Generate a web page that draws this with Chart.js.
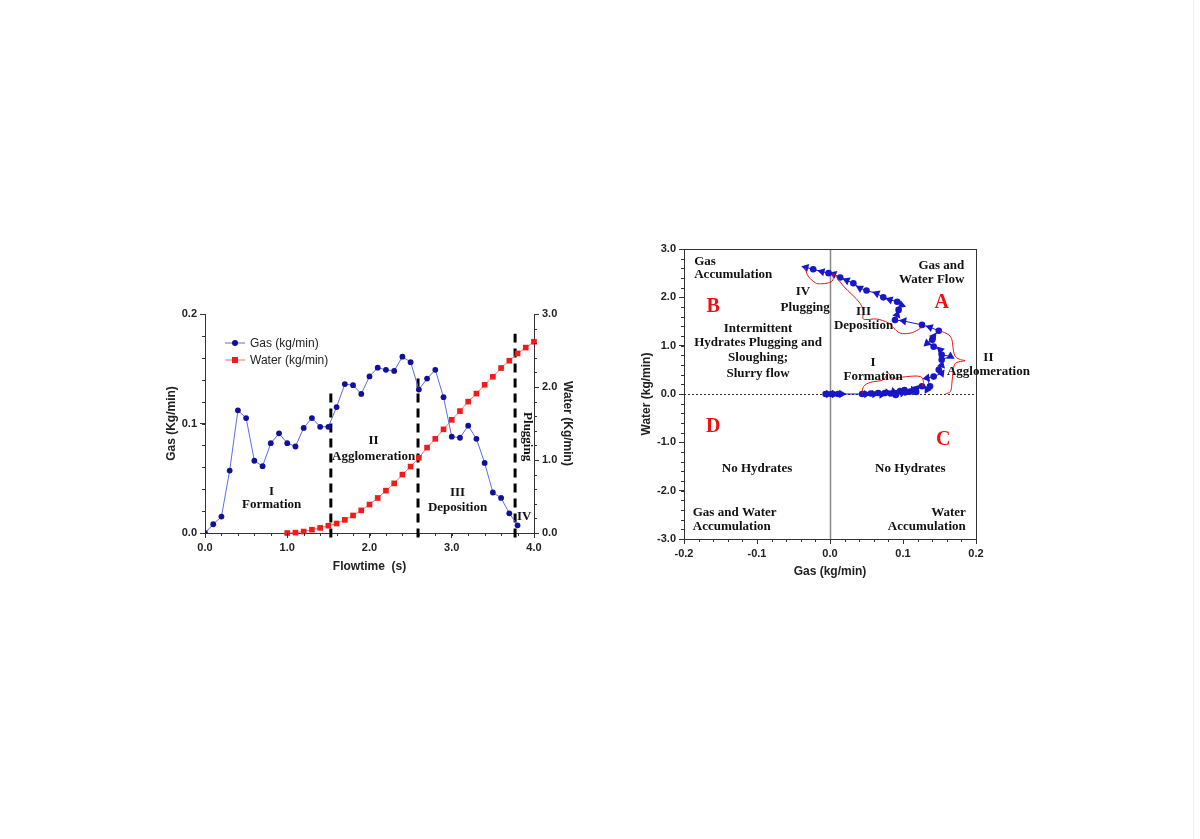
<!DOCTYPE html>
<html>
<head>
<meta charset="utf-8">
<script src="https://cdn.jsdelivr.net/npm/chart.js@4.4.1/dist/chart.umd.min.js"></script>
<style>
  body { margin: 0; background: #fff; width: 1200px; height: 839px; overflow: hidden; position: relative; }
  .edge { position: absolute; left: 1193px; top: 0; width: 1px; height: 839px; background: #eeeeee; }
  #left { position: absolute; left: 160px; top: 300px; }
  #right { position: absolute; left: 635px; top: 235px; }
</style>
</head>
<body>
<div class="edge"></div>
<canvas id="left" width="419" height="280"></canvas>
<canvas id="right" width="405" height="350"></canvas>
<script>
// ---- left chart: flow rates vs flowtime ----
const gasTime = [0.0, 0.1, 0.2, 0.3, 0.4, 0.5, 0.6, 0.7, 0.8, 0.9, 1.0, 1.1, 1.2, 1.3, 1.4, 1.5, 1.6, 1.7, 1.8, 1.9,
                 2.0, 2.1, 2.2, 2.3, 2.4, 2.5, 2.6, 2.7, 2.8, 2.9, 3.0, 3.1, 3.2, 3.3, 3.4, 3.5, 3.6, 3.7, 3.8];
const gasFlow = [0, 0.008, 0.015, 0.057, 0.112, 0.105, 0.066, 0.061, 0.082, 0.091, 0.082, 0.079, 0.096, 0.105, 0.097, 0.097,
                 0.115, 0.136, 0.135, 0.127, 0.143, 0.151, 0.149, 0.148, 0.161, 0.156, 0.131, 0.141, 0.149, 0.124,
                 0.088, 0.087, 0.098, 0.086, 0.064, 0.037, 0.032, 0.018, 0.007];
const waterTime = [1.0, 1.1, 1.2, 1.3, 1.4, 1.5, 1.6, 1.7, 1.8, 1.9, 2.0, 2.1, 2.2, 2.3, 2.4, 2.5, 2.6, 2.7, 2.8, 2.9,
                   3.0, 3.1, 3.2, 3.3, 3.4, 3.5, 3.6, 3.7, 3.8, 3.9, 4.0];
const waterFlow = [0, 0.005, 0.02, 0.045, 0.07, 0.10, 0.13, 0.18, 0.24, 0.31, 0.39, 0.48, 0.58, 0.68, 0.80, 0.91,
                   1.03, 1.17, 1.29, 1.42, 1.55, 1.67, 1.80, 1.91, 2.03, 2.14, 2.26, 2.36, 2.46, 2.54, 2.62];
// stage boundaries (s) and how high each dashed line reaches (gas axis)
const stageTimes = [1.53, 2.59, 3.77];
const stageTops = [0.131, 0.145, 0.182];

// ---- right chart: water vs gas trajectory ----
const trajGas = [-0.006, -0.002, 0.002, 0.006, 0.011, 0.016, 0.044, 0.050, 0.056, 0.061, 0.066, 0.071, 0.075, 0.079,
                 0.083, 0.087, 0.090, 0.093, 0.096, 0.099, 0.102, 0.106, 0.110, 0.114, 0.118,
                 0.119, 0.126, 0.133, 0.137, 0.133, 0.142, 0.153, 0.149, 0.153, 0.153, 0.165, 0.153, 0.151, 0.142,
                 0.133, 0.140, 0.142, 0.149, 0.137, 0.126, 0.101, 0.089, 0.092, 0.094, 0.098, 0.092, 0.082, 0.073,
                 0.064, 0.050, 0.041, 0.032, 0.023, 0.014, 0.005, -0.002, -0.011, -0.023, -0.033];
const trajWater = [0, 0, 0, 0, 0, 0, 0, 0, 0.01, 0, 0.02, -0.01, 0.02, 0.03, 0.01, 0.05, -0.02, 0.04, 0.06, 0.02,
                   0.08, 0.03, 0.05, 0.08, 0.04,
                   0.12, 0.16, 0.09, 0.16, 0.33, 0.36, 0.43, 0.50, 0.60, 0.71, 0.78, 0.81, 0.91, 0.98,
                   1.05, 1.12, 1.19, 1.31, 1.38, 1.43, 1.51, 1.53, 1.64, 1.74, 1.84, 1.91, 1.95, 2.00,
                   2.08, 2.14, 2.19, 2.29, 2.35, 2.41, 2.48, 2.50, 2.53, 2.58, 2.62];
// red outlines around each stage
const braceIGas = [0.044, 0.046, 0.055, 0.073, 0.080, 0.085, 0.105, 0.124, 0.128, 0.126];
const braceIWater = [0.02, 0.155, 0.24, 0.295, 0.43, 0.33, 0.36, 0.36, 0.26, 0.155];
const braceIIGas = [0.151, 0.163, 0.167, 0.169, 0.172, 0.179, 0.185, 0.172, 0.169, 0.167, 0.165, 0.158];
const braceIIWater = [1.31, 1.22, 1.12, 0.91, 0.77, 0.71, 0.69, 0.64, 0.50, 0.23, 0.05, 0.0];
const braceIIIGas = [0.005, 0.0185, 0.030, 0.041, 0.046, 0.045, 0.048, 0.064, 0.080, 0.087, 0.096, 0.110, 0.121, 0.125];
const braceIIIWater = [2.50, 2.23, 2.06, 1.88, 1.71, 1.57, 1.54, 1.55, 1.47, 1.37, 1.26, 1.26, 1.33, 1.38];
const braceIVGas = [-0.034, -0.030, -0.020, -0.013, -0.002, 0.004, 0.004];
const braceIVWater = [2.61, 2.44, 2.30, 2.28, 2.30, 2.36, 2.50];

const SANS = '"Liberation Sans", Arial, sans-serif';
const SERIF = '"Liberation Serif", "Times New Roman", serif';
const AXIS = '#333';

const zip = (xs, ys) => xs.map((x, i) => ({ x: x, y: ys[i] }));

// text labels inside the plots, placed in data units
function notesPlugin(items, yAxis, legend) {
  return {
    id: 'notes',
    afterDatasetsDraw(chart) {
      const ctx = chart.ctx;
      const xs = chart.scales.x, ys = chart.scales[yAxis];
      ctx.save();
      ctx.textBaseline = 'middle';
      items.forEach(n => {
        ctx.font = n.font || ('bold 13px ' + SERIF);
        ctx.fillStyle = n.color || '#111';
        ctx.textAlign = n.align || 'center';
        const px = xs.getPixelForValue(n.x), py = ys.getPixelForValue(n.y);
        if (n.rot) {
          ctx.save();
          ctx.translate(px, py);
          ctx.rotate(n.rot);
          ctx.fillText(n.t, 0, 0);
          ctx.restore();
        } else {
          ctx.fillText(n.t, px, py);
        }
      });
      if (legend) {
        const a = chart.chartArea;
        ctx.font = '12px ' + SANS;
        ctx.textAlign = 'left';
        legend.forEach((l, i) => {
          const y = a.top + 29 + i * 17;
          ctx.strokeStyle = l.line;
          ctx.lineWidth = 1;
          ctx.beginPath();
          ctx.moveTo(a.left + 20, y);
          ctx.lineTo(a.left + 40, y);
          ctx.stroke();
          ctx.fillStyle = l.mark;
          ctx.beginPath();
          if (l.square) ctx.rect(a.left + 27, y - 3, 6, 6);
          else ctx.arc(a.left + 30, y, 3, 0, Math.PI * 2);
          ctx.fill();
          ctx.fillStyle = '#222';
          ctx.fillText(l.text, a.left + 45, y + 1);
        });
      }
      ctx.restore();
    }
  };
}

// small tick marks between the labelled ones
function minorTicksPlugin(steps) {
  return {
    id: 'minorTicks',
    afterDraw(chart) {
      const ctx = chart.ctx;
      ctx.save();
      ctx.strokeStyle = AXIS;
      ctx.lineWidth = 1;
      Object.keys(steps).forEach(id => {
        const s = chart.scales[id];
        const n = Math.round((s.max - s.min) / steps[id]);
        for (let i = 0; i <= n; i++) {
          const v = s.min + i * steps[id];
          const p = Math.round(s.getPixelForValue(v)) + 0.5;
          ctx.beginPath();
          if (s.position === 'bottom') { ctx.moveTo(p, s.top); ctx.lineTo(p, s.top + 3); }
          else if (s.position === 'left') { ctx.moveTo(s.right, p); ctx.lineTo(s.right - 3, p); }
          else { ctx.moveTo(s.left, p); ctx.lineTo(s.left + 3, p); }
          ctx.stroke();
        }
      });
      ctx.restore();
    }
  };
}

const tickFont = { family: SANS, size: 11, weight: 'bold' };
const titleFont = { family: SANS, size: 12, weight: 'bold' };
const axisGrid = { drawOnChartArea: false, drawTicks: true, tickLength: 5, color: AXIS };
const axisBorder = { color: AXIS, width: 1 };

// ---------- left chart ----------
const stageSets = stageTimes.map((t, i) => ({
  type: 'line',
  data: [{ x: t, y: -0.004 }, { x: t, y: stageTops[i] }],
  yAxisID: 'y',
  borderColor: '#000',
  borderWidth: 3,
  borderDash: [9, 6],
  pointRadius: 0,
  clip: false
}));

const leftNotes = [
  { t: 'I', x: 0.81, y: 0.038 }, { t: 'Formation', x: 0.81, y: 0.026 },
  { t: 'II', x: 2.05, y: 0.084 }, { t: 'Agglomeration', x: 2.05, y: 0.070 },
  { t: 'III', x: 3.07, y: 0.037 }, { t: 'Deposition', x: 3.07, y: 0.023 },
  { t: 'IV', x: 3.88, y: 0.015 },
  { t: 'Plugging', x: 3.92, y: 0.088, rot: Math.PI / 2 }
];
const leftLegend = [
  { text: 'Gas (kg/min)', line: '#5a6ee8', mark: '#10109a' },
  { text: 'Water (kg/min)', line: '#ff7070', mark: '#ee1c1c', square: true }
];

new Chart(document.getElementById('left'), {
  type: 'line',
  data: {
    datasets: [
      {
        label: 'Gas (kg/min)',
        data: zip(gasTime, gasFlow),
        yAxisID: 'y',
        borderColor: '#5a6ee8',
        borderWidth: 1,
        pointBackgroundColor: '#10109a',
        pointBorderColor: '#10109a',
        pointRadius: 2.9,
        pointBorderWidth: 0,
        tension: 0
      },
      {
        label: 'Water (kg/min)',
        data: zip(waterTime, waterFlow),
        yAxisID: 'y1',
        borderColor: '#ff7070',
        borderWidth: 1,
        pointStyle: 'rect',
        pointBackgroundColor: '#ee1c1c',
        pointBorderColor: '#ee1c1c',
        pointRadius: 4,
        pointBorderWidth: 0,
        tension: 0,
        clip: false
      },
      ...stageSets
    ]
  },
  options: {
    responsive: false,
    animation: false,
    layout: { padding: { top: 14, bottom: 2, left: 0, right: 0 } },
    plugins: { legend: { display: false }, tooltip: { enabled: false } },
    scales: {
      x: {
        type: 'linear', min: 0, max: 4,
        ticks: { stepSize: 1, font: tickFont, color: '#222', padding: 3, callback: v => v.toFixed(1) },
        grid: axisGrid, border: axisBorder,
        title: { display: true, text: 'Flowtime  (s)', font: titleFont, color: '#222' },
        afterFit: s => { s.height = 45; }
      },
      y: {
        position: 'left', min: 0, max: 0.2,
        ticks: { stepSize: 0.1, font: tickFont, color: '#222', padding: 3, callback: v => v.toFixed(1) },
        grid: axisGrid, border: axisBorder,
        title: { display: true, text: 'Gas (Kg/min)', font: titleFont, color: '#222' },
        afterFit: s => { s.width = 45; }
      },
      y1: {
        position: 'right', min: 0, max: 3,
        ticks: { stepSize: 1, font: tickFont, color: '#222', padding: 3, callback: v => v.toFixed(1) },
        grid: axisGrid, border: axisBorder,
        title: { display: true, text: 'Water (Kg/min)', font: titleFont, color: '#222' },
        afterFit: s => { s.width = 45; }
      }
    }
  },
  plugins: [notesPlugin(leftNotes, 'y', leftLegend), minorTicksPlugin({ x: 0.2, y: 0.02, y1: 0.2 })]
});

// ---------- right chart ----------
const RED = '#ee1111';
const BLUE = '#1717c8';
const bigRed = 'bold 20px ' + SERIF;
const rightNotes = [
  { t: 'Gas', x: -0.186, y: 2.74, align: 'left' }, { t: 'Accumulation', x: -0.186, y: 2.46, align: 'left' },
  { t: 'Gas and', x: 0.184, y: 2.65, align: 'right' }, { t: 'Water Flow', x: 0.184, y: 2.36, align: 'right' },
  { t: 'A', x: 0.153, y: 1.88, font: bigRed, color: RED },
  { t: 'B', x: -0.160, y: 1.81, font: bigRed, color: RED },
  { t: 'C', x: 0.155, y: -0.95, font: bigRed, color: RED },
  { t: 'D', x: -0.160, y: -0.67, font: bigRed, color: RED },
  { t: 'IV', x: -0.037, y: 2.12 }, { t: 'Plugging', x: -0.034, y: 1.78 },
  { t: 'III', x: 0.046, y: 1.70 }, { t: 'Deposition', x: 0.046, y: 1.41 },
  { t: 'II', x: 0.217, y: 0.75 }, { t: 'Agglomeration', x: 0.217, y: 0.46 },
  { t: 'I', x: 0.059, y: 0.645 }, { t: 'Formation', x: 0.059, y: 0.36 },
  { t: 'Intermittent', x: -0.0985, y: 1.35 },
  { t: 'Hydrates Plugging and', x: -0.0985, y: 1.06 },
  { t: 'Sloughing;', x: -0.0985, y: 0.75 },
  { t: 'Slurry flow', x: -0.0985, y: 0.42 },
  { t: 'No Hydrates', x: -0.100, y: -1.55 }, { t: 'No Hydrates', x: 0.110, y: -1.55 },
  { t: 'Gas and Water', x: -0.188, y: -2.45, align: 'left' }, { t: 'Accumulation', x: -0.188, y: -2.74, align: 'left' },
  { t: 'Water', x: 0.186, y: -2.45, align: 'right' }, { t: 'Accumulation', x: 0.186, y: -2.74, align: 'right' }
];

// frame, zero lines
const framePlugin = {
  id: 'frame',
  beforeDatasetsDraw(chart) {
    const { ctx, chartArea: a, scales } = chart;
    const x0 = Math.round(scales.x.getPixelForValue(0)) + 0.5;
    const y0 = Math.round(scales.y.getPixelForValue(0)) + 0.5;
    ctx.save();
    ctx.strokeStyle = '#888';
    ctx.lineWidth = 1.5;
    ctx.beginPath(); ctx.moveTo(x0, a.top); ctx.lineTo(x0, a.bottom); ctx.stroke();
    ctx.strokeStyle = '#333';
    ctx.lineWidth = 1;
    ctx.setLineDash([2, 2]);
    ctx.beginPath(); ctx.moveTo(a.left, y0); ctx.lineTo(a.right, y0); ctx.stroke();
    ctx.setLineDash([]);
    ctx.strokeStyle = AXIS;
    ctx.strokeRect(Math.round(a.left) + 0.5, Math.round(a.top) + 0.5, Math.round(a.width), Math.round(a.height));
    ctx.restore();
  }
};

// triangles point along the direction of travel
function travelAngle(c) {
  const d = c.dataset.data, i = c.dataIndex;
  const a = d[Math.max(0, i - 1)], b = d[Math.min(d.length - 1, i + 1)];
  const xs = c.chart.scales.x, ys = c.chart.scales.y;
  const dx = xs.getPixelForValue(b.x) - xs.getPixelForValue(a.x);
  const dy = ys.getPixelForValue(b.y) - ys.getPixelForValue(a.y);
  return Math.atan2(dy, dx) * 180 / Math.PI + 90;
}

const braceSet = (gs, ws) => ({
  data: zip(gs, ws),
  showLine: true,
  borderColor: RED,
  borderWidth: 1,
  pointRadius: 0,
  tension: 0.35,
  clip: false
});

new Chart(document.getElementById('right'), {
  type: 'scatter',
  data: {
    datasets: [
      braceSet(braceIGas, braceIWater),
      braceSet(braceIIGas, braceIIWater),
      braceSet(braceIIIGas, braceIIIWater),
      braceSet(braceIVGas, braceIVWater),
      {
        label: 'Trajectory',
        data: zip(trajGas, trajWater),
        showLine: true,
        borderColor: BLUE,
        borderWidth: 1,
        backgroundColor: BLUE,
        pointBackgroundColor: BLUE,
        pointBorderColor: BLUE,
        pointBorderWidth: 0,
        pointStyle: c => (c.dataIndex % 2 ? 'triangle' : 'circle'),
        pointRotation: c => travelAngle(c),
        pointRadius: c => (c.dataIndex % 2 ? 4.8 : 3.3),
        tension: 0
      }
    ]
  },
  options: {
    responsive: false,
    animation: false,
    layout: { padding: { top: 14, bottom: 2, left: 0, right: 64 } },
    plugins: { legend: { display: false }, tooltip: { enabled: false } },
    scales: {
      x: {
        type: 'linear', min: -0.2, max: 0.2,
        ticks: { stepSize: 0.1, font: tickFont, color: '#222', padding: 3, callback: v => v.toFixed(1) },
        grid: axisGrid, border: axisBorder,
        title: { display: true, text: 'Gas (kg/min)', font: titleFont, color: '#222' },
        afterFit: s => { s.height = 44; }
      },
      y: {
        type: 'linear', min: -3, max: 3,
        ticks: { stepSize: 1, font: tickFont, color: '#222', padding: 3, callback: v => v.toFixed(1) },
        grid: axisGrid, border: axisBorder,
        title: { display: true, text: 'Water (kg/min)', font: titleFont, color: '#222' },
        afterFit: s => { s.width = 49; }
      }
    }
  },
  plugins: [framePlugin, notesPlugin(rightNotes, 'y'), minorTicksPlugin({ x: 0.02, y: 0.2 })]
});
</script>
</body>
</html>
